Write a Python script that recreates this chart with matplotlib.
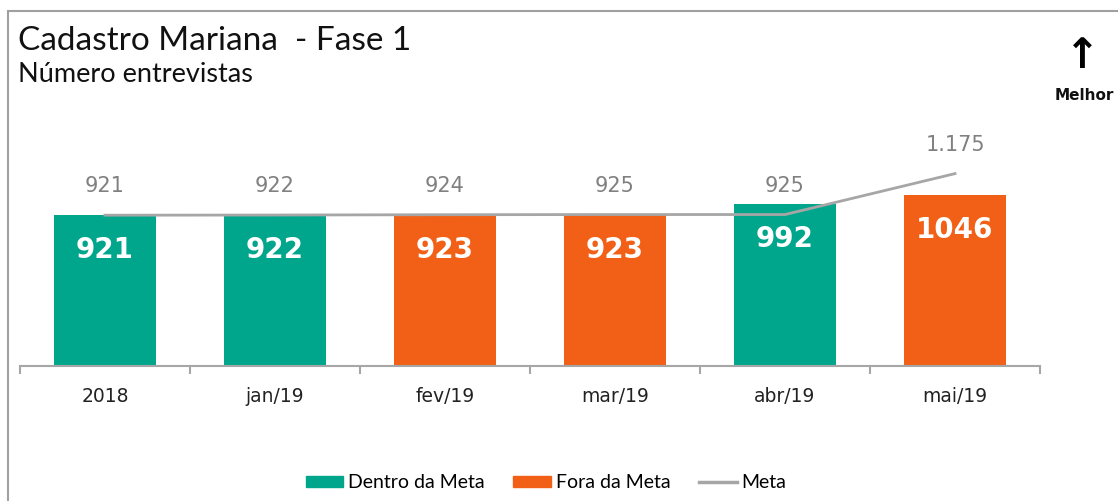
import matplotlib
matplotlib.use('Agg')
import matplotlib.pyplot as plt
from matplotlib.patches import Rectangle, Patch
from matplotlib.lines import Line2D

# dados
meses = ['2018', 'jan/19', 'fev/19', 'mar/19', 'abr/19', 'mai/19']
realizado = [921, 922, 923, 923, 992, 1046]
meta = [921, 922, 924, 925, 925, 1175]
dentro = [True, True, False, False, True, False]

VERDE = '#00A68C'
LARANJA = '#F16016'
CINZA = '#A6A6A6'

fig = plt.figure(figsize=(11.18, 5.01), dpi=100)
ax = fig.add_axes([20 / 1118, (501 - 366) / 501, 1020 / 1118, 245.6 / 501])

x = list(range(len(meses)))
cores = [VERDE if d else LARANJA for d in dentro]
ax.bar(x, realizado, width=0.6, color=cores, zorder=2)
ax.plot(x, meta, color=CINZA, lw=2.0, zorder=3)

for i, v in enumerate(realizado):
    ax.annotate(str(v), xy=(i, v), xytext=(0, -35), textcoords='offset pixels',
                ha='center', va='center', color='white', fontsize=20,
                fontweight='bold', family='DejaVu Sans', zorder=4)
for i, m in enumerate(meta):
    txt = f'{m:,}'.replace(',', '.')
    ax.annotate(txt, xy=(i, m), xytext=(0, 29), textcoords='offset pixels',
                ha='center', va='center', color='#808080', fontsize=15,
                family='DejaVu Sans')

ax.set_xlim(-0.5, 5.5)
ax.set_ylim(0, 1500)
for s in ['top', 'left', 'right']:
    ax.spines[s].set_visible(False)
ax.spines['bottom'].set_color(CINZA)
ax.spines['bottom'].set_linewidth(1.5)
ax.set_yticks([])
ax.set_xticks(x)
ax.set_xticklabels(meses)
ax.set_xticks([i - 0.5 for i in range(len(meses) + 1)], minor=True)
ax.tick_params(axis='x', which='major', length=0, pad=15, labelsize=13.5,
               labelfontfamily='DejaVu Sans', labelcolor='#222222')
ax.tick_params(axis='x', which='minor', length=6, width=1.5, color=CINZA)

fig.text(18 / 1118, 1 - 50 / 501, 'Cadastro Mariana  - Fase 1', family='Lato',
         fontsize=24, va='baseline', color='#111111')
fig.text(18 / 1118, 1 - 82 / 501, 'Número entrevistas', family='Lato',
         fontsize=19.5, va='baseline', color='#111111')
fig.text(1082 / 1118, 1 - 56 / 501, '↑', family='DejaVu Sans', fontsize=30,
         fontweight='bold', ha='center', va='center', color='black')
fig.text(1114 / 1118, 1 - 100 / 501, 'Melhor', family='DejaVu Sans', fontsize=11,
         fontweight='bold', ha='right', va='baseline', color='#111111')

fig.patches.append(Rectangle((8 / 1118, -0.1), 1.2, 1.1 - 11 / 501,
                             transform=fig.transFigure, fill=False,
                             edgecolor='#A0A0A0', lw=1.5))

handles = [Patch(color=VERDE, label='Dentro da Meta'),
           Patch(color=LARANJA, label='Fora da Meta'),
           Line2D([], [], color=CINZA, lw=2.5, label='Meta')]
fig.legend(handles=handles, loc='center', bbox_to_anchor=(546 / 1118, 1 - 483 / 501),
           ncol=3, frameon=False, prop={'family': 'Lato', 'size': 14},
           handlelength=1.95, handleheight=0.55, columnspacing=1.45, handletextpad=0.25)

fig.savefig('out.png', dpi=100)
